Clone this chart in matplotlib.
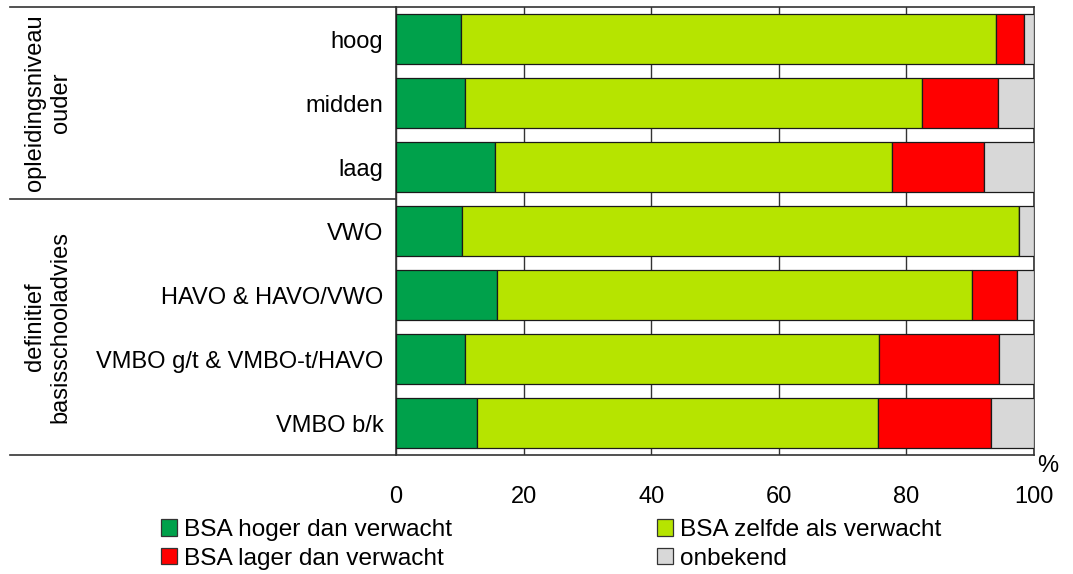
import matplotlib
matplotlib.use("Agg")
import matplotlib.pyplot as plt
from matplotlib.patches import Patch
from matplotlib.transforms import blended_transform_factory
import numpy as np

plt.rcParams['font.family'] = ['Liberation Sans', 'DejaVu Sans']

categories = ["hoog", "midden", "laag", "VWO", "HAVO & HAVO/VWO",
              "VMBO g/t & VMBO-t/HAVO", "VMBO b/k"]
hoger = [10.2, 10.8, 15.5, 10.4, 15.9, 10.8, 12.7]
zelfde = [83.8, 71.6, 62.2, 87.2, 74.4, 64.9, 62.8]
lager = [4.4, 11.9, 14.4, 0.0, 7.0, 18.8, 17.7]
onbekend = [1.6, 5.7, 7.9, 2.4, 2.7, 5.5, 6.8]
series_names = ["BSA hoger dan verwacht", "BSA zelfde als verwacht",
                "BSA lager dan verwacht", "onbekend"]
groups = [("opleidingsniveau\nouder", 0, 2), ("definitief\nbasisschooladvies", 3, 6)]
xticks = [0, 20, 40, 60, 80, 100]

colors = ["#00A14B", "#B6E400", "#FF0000", "#D8D8D8"]
FS = 17

fig = plt.figure(figsize=(10.73, 5.74), dpi=100)
ax = fig.add_axes([396/1073, 1-455/574, (1034-396)/1073, (455-7)/574])

y = np.arange(len(categories))
left = np.zeros(len(categories))
handles = []
for vals, c, name in zip([hoger, zelfde, lager, onbekend], colors, series_names):
    ax.barh(y, vals, left=left, height=0.77, color=c, edgecolor="#1a1a1a",
            linewidth=0.9, zorder=3)
    left = left + np.array(vals)
    handles.append(Patch(facecolor=c, edgecolor="#333333", linewidth=0.9, label=name))

ax.set_xlim(0, 100)
ax.set_ylim(len(categories) - 0.5, -0.5)
ax.set_yticks(y)
ax.set_yticklabels(categories, fontsize=FS)
ax.set_xticks(xticks)
ax.set_xticklabels([str(t) for t in xticks], fontsize=FS)
ax.tick_params(axis='y', length=0, pad=9)
ax.tick_params(axis='x', length=0, pad=22)
ax.grid(axis='x', color="#333333", linewidth=1.0, zorder=0)
for s in ax.spines.values():
    s.set_color("#333333")
    s.set_linewidth(1.2)

# left label panel lines
tr = blended_transform_factory(ax.transAxes, ax.transData)
x0 = (10 - 396) / 638
ax.plot([x0, 0], [-0.5, -0.5], transform=tr, color="#333333", lw=1.2, clip_on=False)
ax.plot([x0, 0], [2.5, 2.5], transform=tr, color="#333333", lw=1.2, clip_on=False)
ax.plot([x0, 0], [6.5, 6.5], transform=tr, color="#333333", lw=1.2, clip_on=False)

for label, a, b in groups:
    ax.text((48 - 396) / 638, (a + b) / 2, label, transform=tr, rotation=90,
            ha='center', va='center', fontsize=FS, multialignment='center')

ax.text(1.022, -0.025, "%", transform=ax.transAxes, ha='center', va='center', fontsize=FS)

order = [0, 2, 1, 3]
fig.legend([handles[i] for i in order], [series_names[i] for i in order],
           loc='upper left', bbox_to_anchor=(161/1073, 1-519/574), ncol=2,
           frameon=False, fontsize=17.6, handlelength=0.65, handleheight=0.65,
           handletextpad=0.28, columnspacing=8.4, labelspacing=0.27,
           borderpad=0, borderaxespad=0)

fig.savefig("out.png", dpi=100)
